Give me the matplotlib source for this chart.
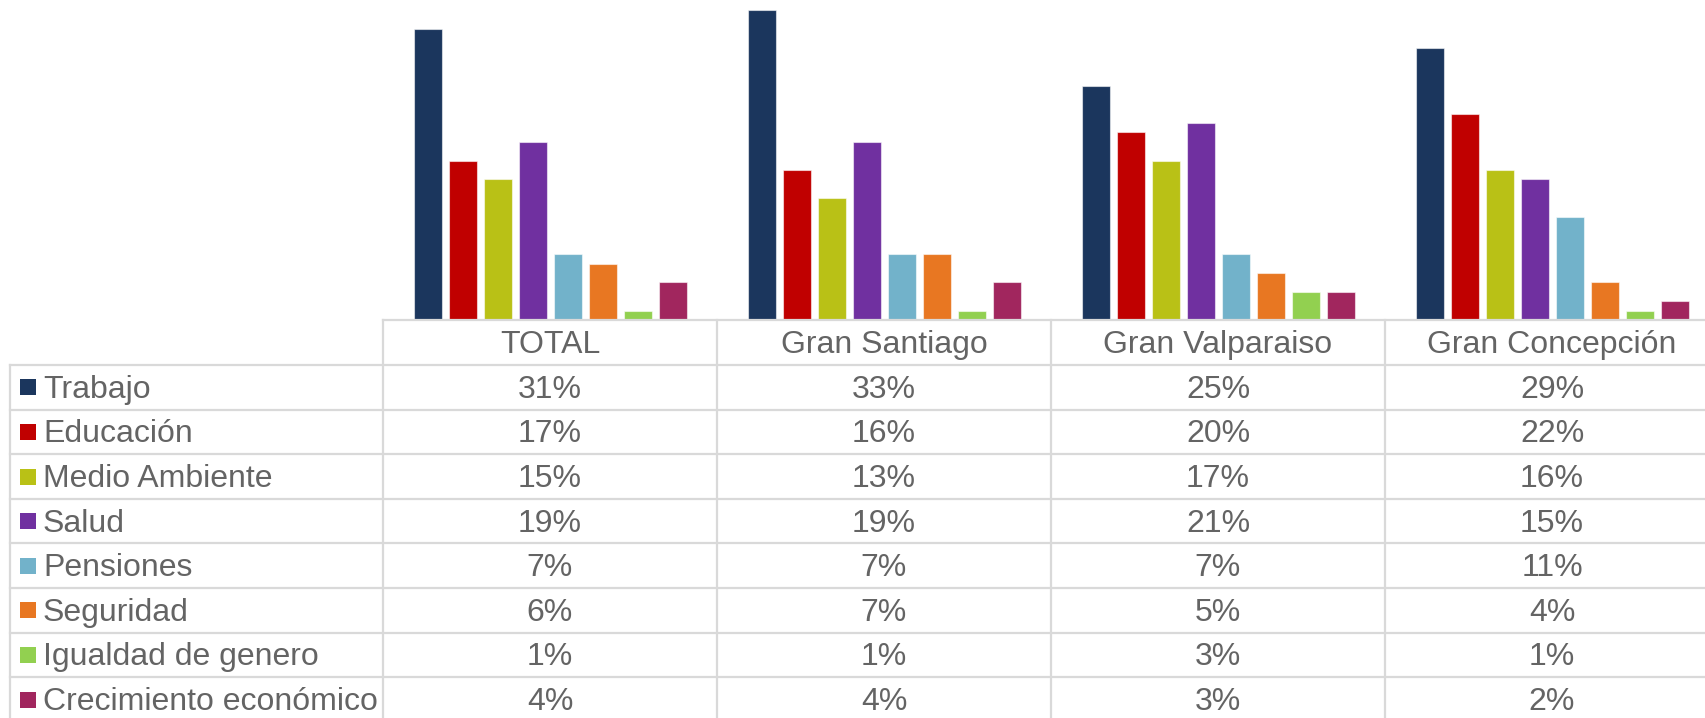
import matplotlib
matplotlib.use("Agg")
import matplotlib.pyplot as plt
from matplotlib.lines import Line2D
from matplotlib.patches import Rectangle
import numpy as np

plt.rcParams['font.family'] = ['Liberation Sans', 'DejaVu Sans']

regions = ["TOTAL", "Gran Santiago", "Gran Valparaiso", "Gran Concepción"]
topics = ["Trabajo", "Educación", "Medio Ambiente", "Salud", "Pensiones",
          "Seguridad", "Igualdad de genero", "Crecimiento económico"]
trabajo = [31, 33, 25, 29]
educacion = [17, 16, 20, 22]
medio_ambiente = [15, 13, 17, 16]
salud = [19, 19, 21, 15]
pensiones = [7, 7, 7, 11]
seguridad = [6, 7, 5, 4]
igualdad = [1, 1, 3, 1]
crecimiento = [4, 4, 3, 2]
series = [trabajo, educacion, medio_ambiente, salud, pensiones,
          seguridad, igualdad, crecimiento]
colors = ["#1B365D", "#C00000", "#B9C116", "#7030A0", "#72B2CA",
          "#E87722", "#92D050", "#A1265E"]

W, H = 1705, 718
fig = plt.figure(figsize=(W / 100, H / 100), dpi=100)

def fx(px):
    return px / W

def fy(py):
    return 1 - py / H

col_left = 383
col_w = 334
base_y = 320
px_per_pct = 9.38

ax = fig.add_axes([fx(col_left), fy(base_y), 4 * col_w / W, base_y / H])
ax.set_xlim(0, 4)
ax.set_ylim(0, base_y / px_per_pct)
ax.axis("off")

pitch = 35 / col_w
bw = 28 / col_w
n = len(series)
x = np.arange(len(regions)) + 0.5
for i, (vals, c) in enumerate(zip(series, colors)):
    off = (i - (n - 1) / 2) * pitch
    ax.bar(x + off, vals, width=bw, color=c, edgecolor=(1, 1, 1, 0.55),
           linewidth=0.8, zorder=2)

# table
grid_c = "#D9D9D9"
lw = 1.6
text_c = "#646464"
fs = 23
row_top = 365
row_h = 44.6
n_rows = len(topics)
table_left = 10
right_px = col_left + 4 * col_w

def hline(y, x0, x1):
    fig.add_artist(Line2D([fx(x0), fx(x1)], [fy(y), fy(y)], color=grid_c,
                          lw=lw, transform=fig.transFigure))

def vline(xp, y0, y1):
    fig.add_artist(Line2D([fx(xp), fx(xp)], [fy(y0), fy(y1)], color=grid_c,
                          lw=lw, transform=fig.transFigure))

hline(base_y, col_left, right_px)
for r in range(n_rows + 1):
    hline(row_top + r * row_h, table_left, right_px)
bottom = row_top + (n_rows + 1) * row_h
vline(table_left, row_top, bottom)
for k in range(5):
    vline(col_left + k * col_w, base_y, bottom)

for j, reg in enumerate(regions):
    fig.text(fx(col_left + (j + 0.5) * col_w), fy((base_y + row_top) / 2 - 1),
             reg, ha="center", va="center_baseline", fontsize=fs, color=text_c)

for r, (name, vals, c) in enumerate(zip(topics, series, colors)):
    cy = row_top + (r + 0.5) * row_h - 1
    fig.add_artist(Rectangle((fx(20), fy(cy + 9)), 16 / W, 16 / H,
                             facecolor=c, edgecolor="none",
                             transform=fig.transFigure))
    fig.text(fx(43), fy(cy), name, ha="left", va="center_baseline",
             fontsize=fs, color=text_c)
    for j, v in enumerate(vals):
        fig.text(fx(col_left + (j + 0.5) * col_w), fy(cy), f"{v}%",
                 ha="center", va="center_baseline", fontsize=fs, color=text_c)

fig.savefig("out.png", dpi=100)
